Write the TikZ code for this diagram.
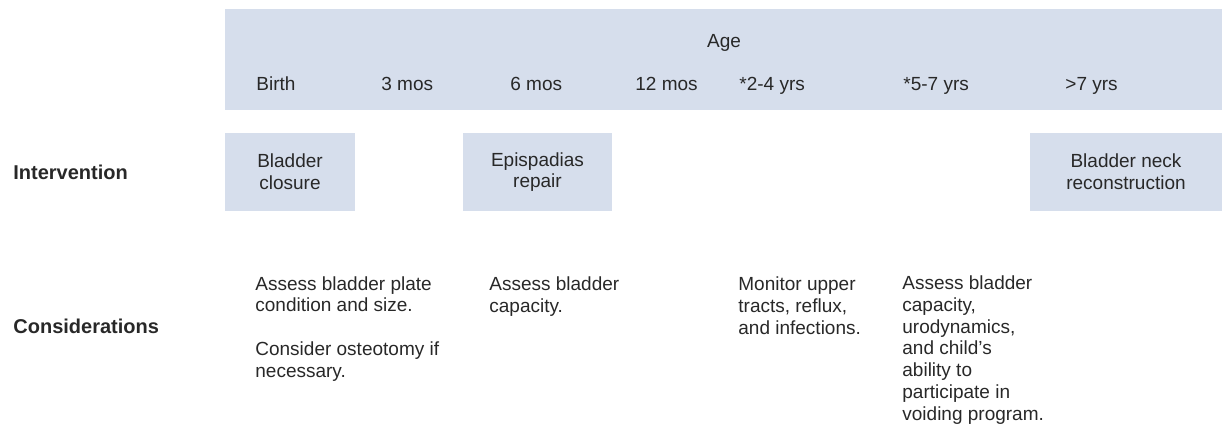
\documentclass[tikz,border=0pt]{standalone}
\usepackage{fontspec}
\setmainfont{Liberation Sans}
\definecolor{bandblue}{RGB}{214,222,236}
\definecolor{inkgray}{RGB}{40,40,40}
\tikzset{
  agebar/.style={fill=bandblue, inner sep=0pt, minimum width=498.5pt, minimum height=50.5pt},
  agelbl/.style={anchor=base west, inner sep=0pt, text=inkgray},
  interbox/.style={fill=bandblue, inner sep=0pt, minimum height=39pt, align=center, text=inkgray},
  rowlbl/.style={anchor=west, inner sep=0pt, font=\bfseries, text=inkgray},
  note/.style={anchor=base west, inner sep=0pt, align=left, text=inkgray}
}
\begin{document}
\begin{tikzpicture}[x=0.5pt, y=-0.5pt, font=\fontsize{9.5}{10.85}\selectfont]
  \useasboundingbox (0,0) rectangle (1228,425);
  % age band
  \node [agebar] (band) at (723.5,59.5) {};
  \node [anchor=base, inner sep=0pt, text=inkgray] (age) at (724,47) {Age};
  \foreach \xpos/\txt/\nm in {256/Birth/birth, 381/3 mos/m3, 510/6 mos/m6, 635/12 mos/m12,
                             739/*2-4 yrs/y2, 903/*5-7 yrs/y5, 1065/>7 yrs/y7}
    \node [agelbl] (\nm) at (\xpos,90) {\txt};
  % row labels
  \node [rowlbl] (interv) at (13,172) {Intervention};
  \node [rowlbl] (consid) at (13,326) {Considerations};
  % interventions
  \node [interbox, minimum width=65pt] (closure) at (290,172) {Bladder\\closure};
  \node [interbox, minimum width=74.5pt] (epirepair) at (537.5,172) {Epispadias\\repair};
  \node [interbox, minimum width=96pt] (neckrec) at (1126,172) {Bladder neck\\reconstruction};
  % considerations (placed by the baseline of their last line)
  \node [note] (platenote) at (255,377) {Assess bladder plate\\condition and size.\\[10.85pt]Consider osteotomy if\\necessary.};
  \node [note] (capnote) at (489,312) {Assess bladder\\capacity.};
  \node [note] (tractnote) at (738,334) {Monitor upper\\tracts, reflux,\\and infections.};
  \node [note] (voidnote) at (902,420) {Assess bladder\\capacity,\\urodynamics,\\and child’s\\ability to\\participate in\\voiding program.};
\end{tikzpicture}
\end{document}
